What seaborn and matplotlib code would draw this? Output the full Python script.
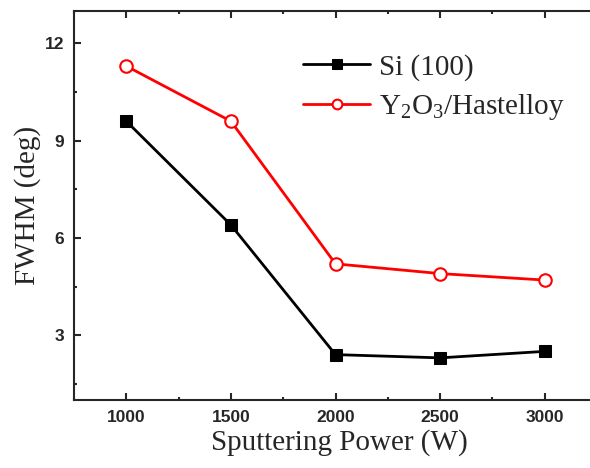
import matplotlib
matplotlib.use("Agg")
import matplotlib.pyplot as plt
import seaborn as sns
import pandas as pd
from matplotlib.ticker import MultipleLocator

power = [1000, 1500, 2000, 2500, 3000]
si_fwhm = [9.6, 6.4, 2.4, 2.3, 2.5]
y2o3_fwhm = [11.3, 9.6, 5.2, 4.9, 4.7]
series_names = ["Si (100)", r"Y$_2$O$_3$/Hastelloy"]
x_ticks = [1000, 1500, 2000, 2500, 3000]
y_ticks = [3, 6, 9, 12]

sns.set_style("ticks")
plt.rcParams["font.family"] = ["Liberation Sans", "DejaVu Sans"]
plt.rcParams["mathtext.fontset"] = "custom"
plt.rcParams["mathtext.rm"] = "Liberation Serif"
plt.rcParams["mathtext.it"] = "Liberation Serif:italic"
plt.rcParams["mathtext.bf"] = "Liberation Serif:bold"

df = pd.DataFrame({
    "power": power * 2,
    "fwhm": si_fwhm + y2o3_fwhm,
    "series": [series_names[0]] * len(power) + [series_names[1]] * len(power),
})

fig = plt.figure(figsize=(5.9, 4.68), dpi=100)
ax = fig.add_axes([74 / 590, 1 - 400 / 468, 530 / 590, 389 / 468])

sns.lineplot(data=df[df.series == series_names[0]], x="power", y="fwhm", ax=ax,
             color="black", lw=2.0, marker="s", markersize=8.5,
             markerfacecolor="black", markeredgecolor="black", label=series_names[0])
sns.lineplot(data=df[df.series == series_names[1]], x="power", y="fwhm", ax=ax,
             color="red", lw=2.0, marker="o", markersize=9,
             markerfacecolor="white", markeredgecolor="red", markeredgewidth=1.5,
             label=series_names[1])

ax.set_xlim(750, 750 + 2500 * 530 / 523)
ax.set_ylim(1, 13)
ax.set_xticks(x_ticks)
ax.set_yticks(y_ticks)
ax.xaxis.set_minor_locator(MultipleLocator(250))
ax.yaxis.set_minor_locator(MultipleLocator(1.5))
ax.tick_params(which="both", direction="in", width=1.5, top=True, right=False,
               labeltop=False, labelright=False)
ax.tick_params(which="major", length=5, labelsize=12.5, pad=7)
ax.tick_params(which="minor", length=2.5)
for lab in ax.get_xticklabels() + ax.get_yticklabels():
    lab.set_fontweight("bold")
for sp in ax.spines.values():
    sp.set_linewidth(1.5)
ax.spines["right"].set_visible(False)

ax.set_xlabel("Sputtering Power (W)", fontsize=21, family="Liberation Serif", labelpad=3)
ax.set_ylabel("FWHM (deg)", fontsize=21, family="Liberation Serif", labelpad=3)

leg = ax.legend(loc="upper left", bbox_to_anchor=(0.432, 0.89), frameon=False,
                prop={"family": "Liberation Serif", "size": 21},
                handlelength=2.3, handletextpad=0.3, borderaxespad=0, borderpad=0,
                labelspacing=0.4)
for h in leg.legend_handles:
    h.set_markersize(7)

fig.savefig("out.png", dpi=100)
